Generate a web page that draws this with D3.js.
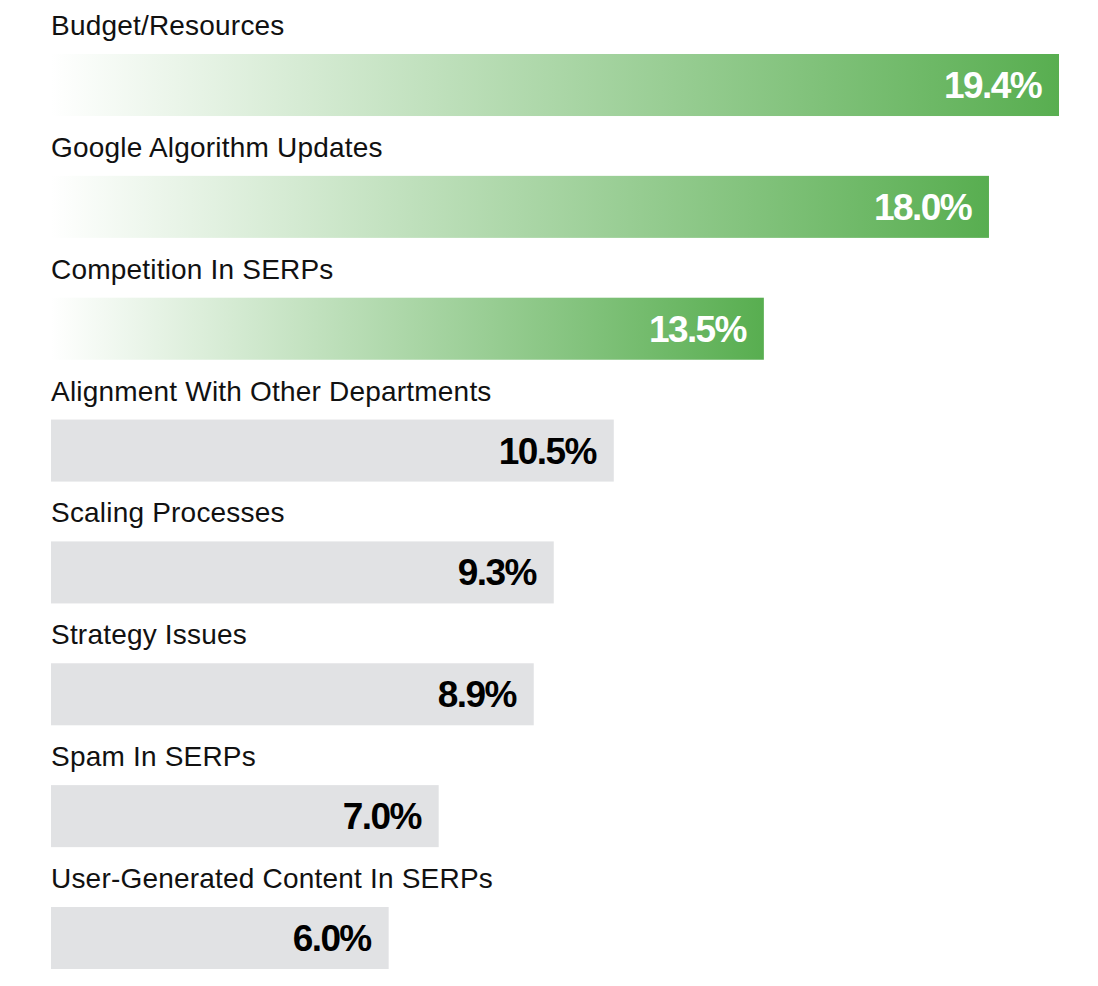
<!DOCTYPE html>
<html>
<head>
<meta charset="utf-8">
<script src="https://cdn.jsdelivr.net/npm/d3@7"></script>
<style>
  html, body { margin: 0; padding: 0; background: #fff; }
  svg { display: block; }
</style>
</head>
<body>
<svg id="chart" width="1098" height="986"></svg>
<script>
const categories = [
  "Budget/Resources",
  "Google Algorithm Updates",
  "Competition In SERPs",
  "Alignment With Other Departments",
  "Scaling Processes",
  "Strategy Issues",
  "Spam In SERPs",
  "User-Generated Content In SERPs"
];
const values = [19.4, 18.0, 13.5, 10.5, 9.3, 8.9, 7.0, 6.0];
const highlighted = [true, true, true, false, false, false, false, false];

const data = categories.map((c, i) => ({ c, v: values[i], hi: highlighted[i] }));

const svg = d3.select("#chart");
const left = 51;

const x = d3.scaleLinear().domain([-0.75, d3.max(values)]).range([left, 1059]);
const y = d3.scaleBand().domain(categories).range([54, 969]).paddingInner(0.491).paddingOuter(0);

const defs = svg.append("defs");
const grad = defs.append("linearGradient")
  .attr("id", "greenGrad")
  .attr("x1", "0%").attr("x2", "100%").attr("y1", "0%").attr("y2", "0%");
grad.append("stop").attr("offset", "0%").attr("stop-color", "#ffffff");
grad.append("stop").attr("offset", "100%").attr("stop-color", "#58ae50");

const g = svg.append("g");
const row = g.selectAll("g.row").data(data).join("g").attr("class", "row");

row.append("rect")
  .attr("x", left)
  .attr("y", d => y(d.c))
  .attr("width", d => x(d.v) - left)
  .attr("height", y.bandwidth())
  .attr("fill", d => d.hi ? "url(#greenGrad)" : "#e1e2e4");

row.append("text")
  .attr("x", left)
  .attr("y", d => y(d.c) - 19)
  .attr("font-family", "'Liberation Sans', Arial, sans-serif")
  .attr("font-size", 28)
  .attr("letter-spacing", "0.2px")
  .attr("fill", "#111")
  .text(d => d.c);

row.append("text")
  .attr("x", d => x(d.v) - 18)
  .attr("y", d => y(d.c) + y.bandwidth() / 2 + 13)
  .attr("text-anchor", "end")
  .attr("font-family", "'Liberation Sans', Arial, sans-serif")
  .attr("font-weight", "bold")
  .attr("font-size", 37)
  .attr("letter-spacing", "-1.6px")
  .attr("fill", d => d.hi ? "#ffffff" : "#000000")
  .text(d => d.v.toFixed(1) + "%");
</script>
</body>
</html>
